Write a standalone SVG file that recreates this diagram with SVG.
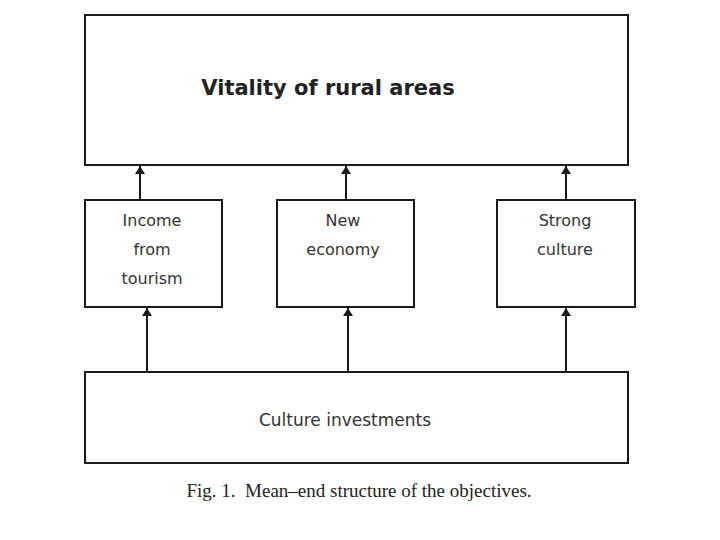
<svg xmlns="http://www.w3.org/2000/svg" width="720" height="540" viewBox="0 0 720 540">
<style>
.box{fill:#fff;stroke:#1a1a1a;stroke-width:2}
.lbl{font-family:"DejaVu Sans","Liberation Sans",sans-serif;font-size:16px;fill:#333;text-anchor:middle}
.big{font-size:17px}
.title{font-family:"DejaVu Sans","Liberation Sans",sans-serif;font-size:21px;font-weight:bold;fill:#222;text-anchor:middle}
.cap{font-family:"Liberation Serif","DejaVu Serif",serif;font-size:19px;fill:#222;text-anchor:middle}
.conn{stroke:#1a1a1a;stroke-width:2;fill:none;marker-end:url(#ah)}
</style>
<defs>
<marker id="ah" viewBox="0 0 8 10" refX="8" refY="5" markerWidth="4" markerHeight="5" orient="auto" markerUnits="strokeWidth">
<path d="M0,0 L8,5 L0,10 Z" fill="#1a1a1a"/>
</marker>
</defs>
<rect width="720" height="540" fill="#fff"/>
<g id="vitality">
<rect class="box" x="85" y="15" width="543" height="150"/>
<text class="title" x="328" y="95">Vitality of rural areas</text>
</g>
<g id="income">
<rect class="box" x="85" y="200" width="137" height="107"/>
<text class="lbl" x="152" y="226">Income</text>
<text class="lbl" x="152" y="255">from</text>
<text class="lbl" x="152" y="284">tourism</text>
</g>
<g id="economy">
<rect class="box" x="277" y="200" width="137" height="107"/>
<text class="lbl" x="343" y="226">New</text>
<text class="lbl" x="343" y="255">economy</text>
</g>
<g id="culture">
<rect class="box" x="497" y="200" width="138" height="107"/>
<text class="lbl" x="565" y="226">Strong</text>
<text class="lbl" x="565" y="255">culture</text>
</g>
<g id="investments">
<rect class="box" x="85" y="372" width="543" height="91"/>
<text class="lbl big" x="345" y="426">Culture investments</text>
</g>
<g id="connectors">
<line class="conn" x1="140" y1="200" x2="140" y2="166"/>
<line class="conn" x1="346" y1="200" x2="346" y2="166"/>
<line class="conn" x1="566" y1="200" x2="566" y2="166"/>
<line class="conn" x1="147" y1="372" x2="147" y2="308"/>
<line class="conn" x1="348" y1="372" x2="348" y2="308"/>
<line class="conn" x1="566" y1="372" x2="566" y2="308"/>
</g>
<text class="cap" x="359" y="497" xml:space="preserve">Fig. 1.  Mean–end structure of the objectives.</text>
</svg>
